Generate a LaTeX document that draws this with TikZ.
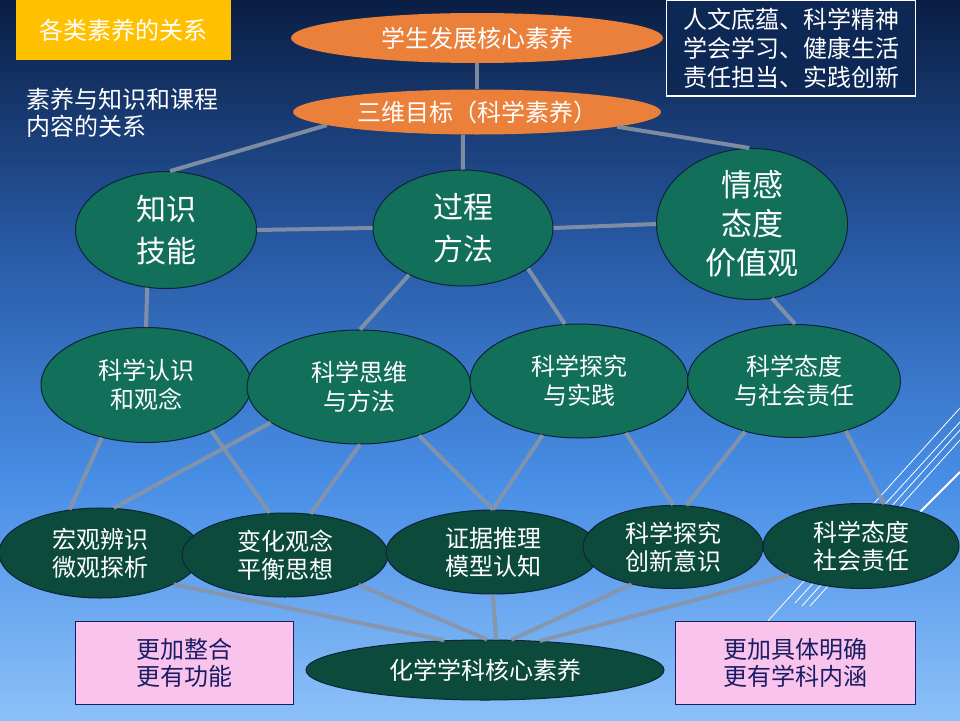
\documentclass[tikz,border=0pt]{standalone}
\usepackage{fontspec}
\setmainfont{Noto Sans CJK SC}
\usepackage{tikz}
\usetikzlibrary{shapes.geometric}
\definecolor{bgA}{RGB}{10,30,68}
\definecolor{bgB}{RGB}{40,90,165}
\definecolor{bgC}{RGB}{72,142,230}
\definecolor{bgD}{RGB}{140,192,248}
\definecolor{goalfill}{RGB}{234,128,58}
\definecolor{titlefill}{RGB}{255,192,0}
\definecolor{ctxfill}{RGB}{14,40,86}
\definecolor{leaffill}{RGB}{18,112,90}
\definecolor{rootfill}{RGB}{12,74,60}
\definecolor{rimcol}{RGB}{12,36,56}
\definecolor{pinkfill}{RGB}{250,195,236}
\definecolor{inkcol}{RGB}{25,30,100}
\definecolor{wirecol}{RGB}{136,148,166}
\tikzset{
  linkline/.style={draw=wirecol, line width=4pt, opacity=0.9},
  streak/.style={draw=white, line width=0.8pt},
  goal/.style={ellipse, fill=goalfill, text=white, inner sep=0pt,
    font={\fontsize{24}{29}\selectfont}},
  pillar/.style={ellipse, fill=leaffill, draw=rimcol, line width=1pt, text=white,
    inner sep=0pt, align=center, font={\fontsize{30}{42}\selectfont}},
  core/.style={ellipse, fill=leaffill, draw=rimcol, line width=1pt, text=white,
    inner sep=0pt, align=center, font={\fontsize{24}{29}\selectfont}},
  chem/.style={ellipse, fill=rootfill, draw=rimcol, line width=1pt, text=white,
    inner sep=0pt, align=center, font={\fontsize{24}{28}\selectfont}},
  pinkbox/.style={rectangle, fill=pinkfill, draw=inkcol, line width=1pt, text=inkcol,
    inner sep=0pt, align=center, font={\fontsize{24}{27}\selectfont}},
}
\begin{document}
\begin{tikzpicture}[x=1pt, y=-1pt]
  \useasboundingbox (0,0) rectangle (960,720);
  % background
  \shade[top color=bgA, bottom color=bgB] (0,0) rectangle (960,251);
  \shade[top color=bgB, bottom color=bgC] (0,250) rectangle (960,481);
  \shade[top color=bgC, bottom color=bgD] (0,480) rectangle (960,720);

  % streaks on the right
  \draw[streak] (767,622) -- (960,408);
  \draw[streak] (795,603) -- (960,422);
  \draw[streak] (802,606) -- (960,430);
  \draw[streak] (810,606) -- (960,440);
  \draw[streak, line width=2pt] (880,552) -- (960,472);

  % headings
  \node[rectangle, fill=titlefill, text=white, minimum width=215, minimum height=60,
        inner sep=0pt, font={\fontsize{24}{29}\selectfont}] (ttl) at (123,30) {各类素养的关系};
  \node[text=white, anchor=west, align=left, inner sep=0pt,
        font={\fontsize{24}{27}\selectfont}] (sub) at (26,113) {素养与知识和课程\\内容的关系};
  \node[rectangle, fill=ctxfill, draw=white, line width=1.2pt, text=white, align=left,
        minimum width=249, minimum height=96, inner sep=0pt,
        font={\fontsize{24}{29}\selectfont}] (ctx) at (791,48)
        {人文底蕴、科学精神\\学会学习、健康生活\\责任担当、实践创新};

  % goals
  \node[goal, minimum width=372, minimum height=50] (hx) at (477,38) {学生发展核心素养};
  \node[goal, minimum width=368, minimum height=45] (sw) at (477,112) {三维目标（科学素养）};

  % three dimensions
  \node[pillar, minimum width=181, minimum height=117] (zs) at (166,230) {知识\\技能};
  \node[pillar, minimum width=180, minimum height=116] (gc) at (463,228) {过程\\方法};
  \node[pillar, minimum width=191, minimum height=121,
        font={\fontsize{31}{39}\selectfont}] (qg) at (752,224) {情感\\态度\\价值观};

  % science literacy
  \node[core, minimum width=210, minimum height=115] (a1) at (146,385) {科学认识\\和观念};
  \node[core, minimum width=224, minimum height=114] (a2) at (359,387) {科学思维\\与方法};
  \node[core, minimum width=218, minimum height=114] (a3) at (579,381) {科学探究\\与实践};
  \node[core, minimum width=213, minimum height=113] (a4) at (794,381) {科学态度\\与社会责任};

  % chemistry literacy
  \node[chem, minimum width=202, minimum height=90] (b1) at (100,553) {宏观辨识\\微观探析};
  \node[chem, minimum width=206, minimum height=84] (b2) at (285,555) {变化观念\\平衡思想};
  \node[chem, minimum width=214, minimum height=84] (b3) at (493,552) {证据推理\\模型认知};
  \node[chem, minimum width=180, minimum height=83] (b4) at (673,547) {科学探究\\创新意识};
  \node[chem, minimum width=196, minimum height=85] (b5) at (861,546) {科学态度\\社会责任};
  \node[chem, minimum width=358, minimum height=60] (hk) at (485,670) {化学学科核心素养};

  \node[pinkbox, minimum width=218, minimum height=83] (p1) at (184,663) {更加整合\\更有功能};
  \node[pinkbox, minimum width=240, minimum height=83] (p2) at (795,663) {更加具体明确\\更有学科内涵};

  \draw[linkline]
        (hx.south) edge (sw.north)
        (sw.185)   edge (zs.86)
        (sw.238)   edge (gc.north)
        (sw.354)   edge (qg.92)
        (zs.east)  edge (gc.west)
        (gc.east)  edge (qg.west)
        (zs.252)   edge (a1.90)
        (gc.221)   edge (a2.89)
        (gc.328)   edge (a3.104)
        (qg.285)   edge (a4.89);
  \draw[linkline]
        (a1.230) edge (b1.125)
        (a2.202) edge (b1.73)
        (a1.325) edge (b2.110)
        (a2.271) edge (b2.58)
        (a2.321) edge (b3.north)
        (a3.236) edge (b3.north)
        (a3.312) edge (b4.north)
        (a4.226) edge (b4.72)
        (a4.316) edge (b5.61);
  \draw[linkline]
        (b1.337)   edge (hk.144)
        (b2.338)   edge (hk.86)
        (b3.south) edge (hk.70)
        (b4.222)   edge (hk.49)
        (b5.202)   edge (hk.28);
\end{tikzpicture}
\end{document}
